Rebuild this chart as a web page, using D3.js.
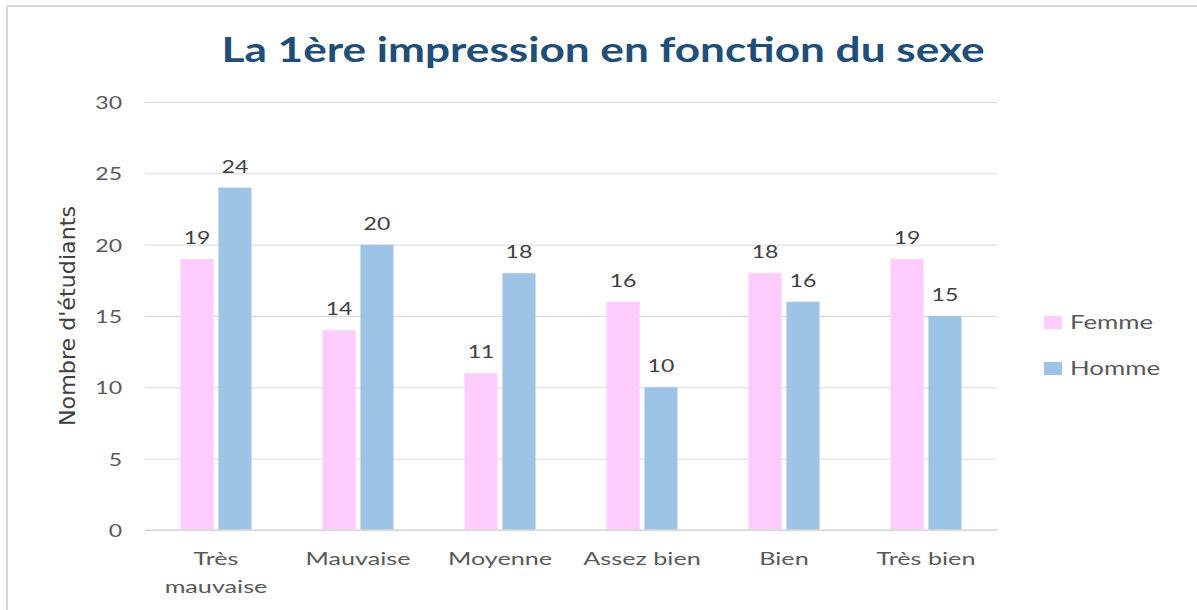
<!DOCTYPE html>
<html>
<head>
<meta charset="utf-8">
<script src="https://cdn.jsdelivr.net/npm/d3@7"></script>
<style>
  body { margin: 0; background: #fff; }
  svg { font-family: Lato, "Open Sans", sans-serif; }
</style>
</head>
<body>
<svg class="chart" width="1197" height="610"></svg>
<script>
// Data
var categories = ["Très mauvaise", "Mauvaise", "Moyenne", "Assez bien", "Bien", "Très bien"];
var femme = [19, 14, 11, 16, 18, 19];
var homme = [24, 20, 18, 10, 16, 15];
var seriesNames = ["Femme", "Homme"];
var seriesColors = ["#ffccff", "#9dc3e6"];
var yTicks = [0, 5, 10, 15, 20, 25, 30];

var svg = d3.select(".chart");
var margin = {top: 102, right: 200, bottom: 80, left: 145};
var width = 997 - margin.left;
var height = 530 - margin.top;

// the original font is wider than Lato, so text gets stretched a bit
function place(sel, x, y, sx) {
    return sel.attr("transform", "translate(" + x + "," + y + ") scale(" + sx + ",1)");
}

// outer border
svg.append("rect")
    .attr("x", 7).attr("y", 6)
    .attr("width", 1197).attr("height", 620)
    .attr("fill", "none")
    .attr("stroke", "#d9d9d9")
    .attr("stroke-width", 2);

// Title
svg.append("text")
    .attr("x", 603).attr("y", 62)
    .attr("text-anchor", "middle")
    .attr("font-size", 34)
    .attr("font-weight", "bold")
    .attr("fill", "#1f4e79")
    .attr("textLength", 763)
    .attr("lengthAdjust", "spacingAndGlyphs")
    .text("La 1ère impression en fonction du sexe");

// Scales
var x = d3.scaleBand().domain(categories).range([0, width]);
var y = d3.scaleLinear().domain([0, 30]).range([height, 0]);

var g = svg.append("g")
    .attr("transform", "translate(" + margin.left + "," + margin.top + ")");

// Grid lines + y axis
var yAxis = g.append("g")
    .call(d3.axisLeft(y).tickValues(yTicks).tickSize(-width).tickPadding(0));
yAxis.select(".domain").remove();
yAxis.selectAll(".tick line").attr("stroke", "#d9d9d9").attr("stroke-width", 1);
yAxis.selectAll(".tick text")
    .attr("x", null).attr("dy", null)
    .attr("font-size", 18)
    .attr("fill", "#595959")
    .attr("font-family", "Lato, sans-serif")
    .attr("transform", "translate(-23,6.5) scale(1.28,1)");

// Y axis label
svg.append("text")
    .attr("transform", "translate(75,316) rotate(-90)")
    .attr("text-anchor", "middle")
    .attr("font-size", 21)
    .attr("fill", "#404040")
    .attr("font-family", "'Liberation Sans Narrow', 'DejaVu Sans Condensed', sans-serif")
    .attr("textLength", 220)
    .attr("lengthAdjust", "spacingAndGlyphs")
    .text("Nombre d'étudiants");

// Bars
var barW = 31, gap = 9;
var inner = d3.scaleBand().domain(seriesNames)
    .range([x.bandwidth() / 2 - barW - gap / 2, x.bandwidth() / 2 + barW + gap / 2])
    .paddingInner(gap / (2 * barW + gap));

var rows = categories.map(function(c, i) {
    return {category: c, values: [femme[i], homme[i]]};
});

var groups = g.selectAll(".grp")
    .data(rows)
    .enter().append("g")
    .attr("class", "grp")
    .attr("transform", function(d) { return "translate(" + x(d.category) + ",0)"; });

groups.selectAll("rect")
    .data(function(d) { return d.values.map(function(v, i) { return {name: seriesNames[i], value: v, color: seriesColors[i]}; }); })
    .enter().append("rect")
    .attr("x", function(d) { return inner(d.name); })
    .attr("width", inner.bandwidth())
    .attr("y", function(d) { return y(d.value); })
    .attr("height", function(d) { return height - y(d.value); })
    .attr("fill", function(d) { return d.color; });

groups.selectAll(".lbl")
    .data(function(d) { return d.values.map(function(v, i) { return {name: seriesNames[i], value: v}; }); })
    .enter().append("text")
    .attr("class", "lbl")
    .attr("text-anchor", "middle")
    .attr("font-size", 18)
    .attr("fill", "#404040")
    .text(function(d) { return d.value; })
    .each(function(d) {
        place(d3.select(this), inner(d.name) + inner.bandwidth() / 2, y(d.value) - 15, 1.28);
    });

// X axis baseline
g.append("line")
    .attr("x1", 0).attr("x2", width)
    .attr("y1", height).attr("y2", height)
    .attr("stroke", "#d9d9d9").attr("stroke-width", 1.5);

// X axis labels (wrap "Très mauvaise")
var xLabels = g.append("g");
categories.forEach(function(c) {
    var lines = c === "Très mauvaise" ? ["Très", "mauvaise"] : [c];
    var t = xLabels.append("text")
        .attr("text-anchor", "middle")
        .attr("font-size", 18)
        .attr("fill", "#595959");
    place(t, x(c) + x.bandwidth() / 2, height + 35, 1.4);
    lines.forEach(function(l, i) {
        t.append("tspan")
            .attr("x", 0)
            .attr("dy", i === 0 ? 0 : 28)
            .text(l);
    });
});

// Legend
var legend = svg.append("g").attr("transform", "translate(1044,316)");
seriesNames.forEach(function(n, i) {
    legend.append("rect")
        .attr("x", 0).attr("y", i * 46)
        .attr("width", 18).attr("height", 13)
        .attr("fill", seriesColors[i]);
    var t = legend.append("text")
        .attr("font-size", 19)
        .attr("fill", "#595959")
        .text(n);
    place(t, 26, i * 46 + 13, 1.36);
});
</script>
</body>
</html>
